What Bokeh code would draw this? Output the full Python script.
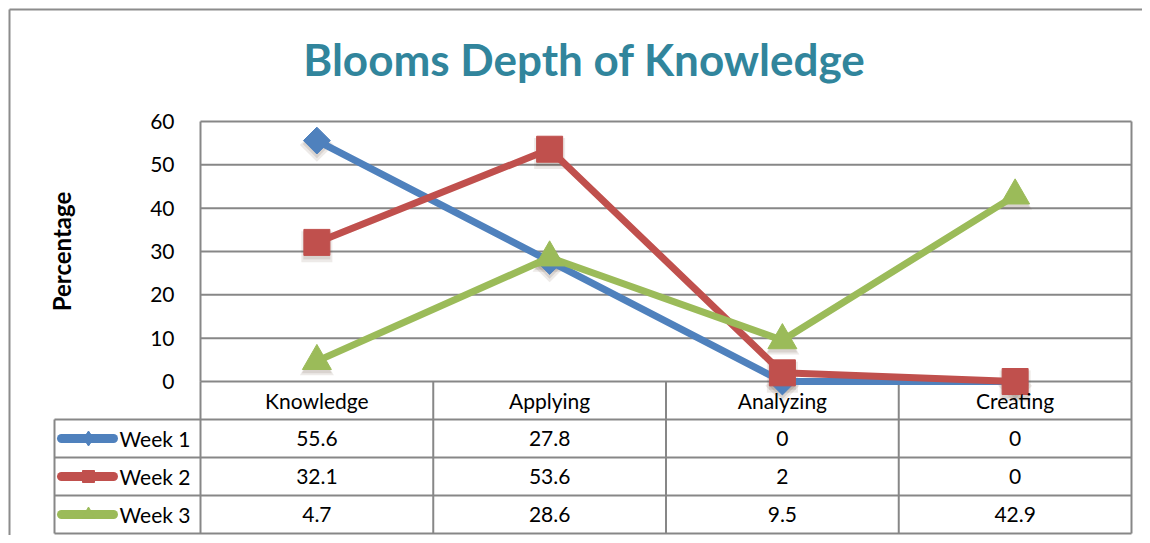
import math
from bokeh.plotting import figure
from bokeh.models import Range1d, LinearAxis, FixedTicker, Label
from bokeh.core.properties import value
from bokeh.embed import file_html
from bokeh.resources import INLINE

# ---------------- data ----------------
title_text = "Blooms Depth of Knowledge"
y_label = "Percentage"
categories = ["Knowledge", "Applying", "Analyzing", "Creating"]
series_names = ["Week 1", "Week 2", "Week 3"]
week1 = [55.6, 27.8, 0, 0]
week2 = [32.1, 53.6, 2, 0]
week3 = [4.7, 28.6, 9.5, 42.9]
y_ticks = [0, 10, 20, 30, 40, 50, 60]

# ---------------- layout (pixels) ----------------
W, H = 1142, 535
X0, Y0 = 0, 0
PLOT_L, PLOT_R = 200, 1131
PLOT_T, PLOT_B = 121, 381
ROW_H = 38
LEG_L = 54
FONT = "Lato"
GRID = "#878787"
TITLE_COLOR = "#31859C"
colors = ["#4F81BD", "#C0504D", "#9BBB59"]

ncat = len(categories)
ymax = max(y_ticks)
xpx = (PLOT_R - PLOT_L) / ncat
ypx = (PLOT_B - PLOT_T) / ymax


def dx(px):
    return (px - PLOT_L) / xpx


def dy(px):
    return (PLOT_B - px) / ypx


x_range = Range1d(dx(X0), dx(X0 + W))
y_range = Range1d(dy(Y0 + H), dy(Y0))
tbl_range = Range1d((Y0 + H - PLOT_B) / ROW_H, -(PLOT_B - Y0) / ROW_H)

p = figure(width=W, height=H, x_range=x_range, y_range=y_range,
           output_backend="svg", toolbar_location=None, min_border=0,
           x_axis_type=None, y_axis_type=None)
p.extra_y_ranges = {"tbl": tbl_range}
p.outline_line_color = None
p.background_fill_color = "white"
p.border_fill_color = "white"

# outer chart border (top and left)
p.segment(x0=[dx(9), dx(9)], x1=[dx(9), dx(W + 10)], y0=[dy(9), dy(9)], y1=[dy(H + 10), dy(9)],
          line_color="#8c8c8c", line_width=2)

# y axis at the plot-area edge
yaxis = LinearAxis(ticker=FixedTicker(ticks=y_ticks), fixed_location=0,
                   axis_line_color=None, major_tick_line_color=None,
                   minor_tick_line_color=None,
                   major_label_text_font=FONT,
                   major_label_text_font_size="21px",
                   major_label_text_color="black",
                   major_label_standoff=20)
p.add_layout(yaxis, "left")

# gridlines and plot-area border
p.segment(x0=[0] * len(y_ticks), x1=[ncat] * len(y_ticks), y0=y_ticks, y1=y_ticks,
          line_color=GRID, line_width=2)
p.segment(x0=[0, ncat], x1=[0, ncat], y0=[0, 0], y1=[ymax, ymax],
          line_color=GRID, line_width=2)

# table grid
nrows = len(series_names) + 1
leg_x = dx(LEG_L)
row_lines = list(range(1, nrows + 1))
p.segment(x0=[leg_x] * len(row_lines), x1=[ncat] * len(row_lines),
          y0=row_lines, y1=row_lines,
          y_range_name="tbl", line_color=GRID, line_width=2)
p.segment(x0=list(range(0, ncat + 1)), x1=list(range(0, ncat + 1)),
          y0=[0] * (ncat + 1), y1=[nrows] * (ncat + 1),
          y_range_name="tbl", line_color=GRID, line_width=2)
p.segment(x0=[leg_x], x1=[leg_x], y0=[1], y1=[nrows],
          y_range_name="tbl", line_color=GRID, line_width=2)

# series
xs = [i + 0.5 for i in range(ncat)]
series = [week1, week2, week3]
markers = [("square", 19, math.pi / 4), ("square", 26, 0), ("triangle", 29, 0)]
for vals, col, (mk, sz, ang) in zip(series, colors, markers):
    # soft shadow
    p.scatter(x=xs, y=[v - 1.0 for v in vals], marker=mk, size=sz + 5, angle=ang,
              fill_color="#4a3020", fill_alpha=0.10, line_color=None)
    p.scatter(x=xs, y=[v - 0.8 for v in vals], marker=mk, size=sz + 1, angle=ang,
              fill_color="#4a3020", fill_alpha=0.12, line_color=None)
for vals, col, (mk, sz, ang) in zip(series, colors, markers):
    p.line(x=xs, y=vals, line_color=col, line_width=7, line_join="round")
    p.scatter(x=xs, y=vals, marker=mk, size=sz, angle=ang,
              fill_color=col, line_color=col)

# header row (categories)
p.text(x=xs, y=[0.5] * ncat, text=categories, y_range_name="tbl",
       text_font=value(FONT), text_font_size=value("21px"),
       text_align="center", text_baseline="middle", text_color="black")

# legend keys + values
leg_markers = [("diamond", 15, 0), ("square", 12, 0), ("triangle", 13, 0)]
for r, (name, vals, col, (mk, sz, ang)) in enumerate(zip(series_names, series, colors, leg_markers)):
    yc = r + 1.5
    p.line(x=[dx(61), dx(113)], y=[yc, yc], y_range_name="tbl",
           line_color=col, line_width=9, line_cap="round")
    p.scatter(x=[dx(88)], y=[yc], y_range_name="tbl", marker=mk, size=sz,
              angle=ang, fill_color=col, line_color=col)
    p.text(x=[dx(119)], y=[yc], text=[name], y_range_name="tbl",
           text_font=value(FONT), text_font_size=value("21px"),
           text_align="left", text_baseline="middle", text_color="black")
    p.text(x=xs, y=[yc] * ncat, text=[f"{v:g}" for v in vals], y_range_name="tbl",
           text_font=value(FONT), text_font_size=value("21px"),
           text_align="center", text_baseline="middle", text_color="black")

# title and axis title
p.add_layout(Label(x=dx(584), y=dy(58), text=title_text, text_font=FONT,
                   text_font_style="bold", text_font_size="44px",
                   text_color=TITLE_COLOR, text_align="center",
                   text_baseline="alphabetic"))
p.add_layout(Label(x=dx(61), y=dy(251), text=y_label, angle=math.pi / 2,
                   text_font=FONT, text_font_style="bold", text_font_size="24px",
                   text_color="black", text_align="center", text_baseline="middle"))

open("out.html", "w").write(file_html(p, INLINE))
